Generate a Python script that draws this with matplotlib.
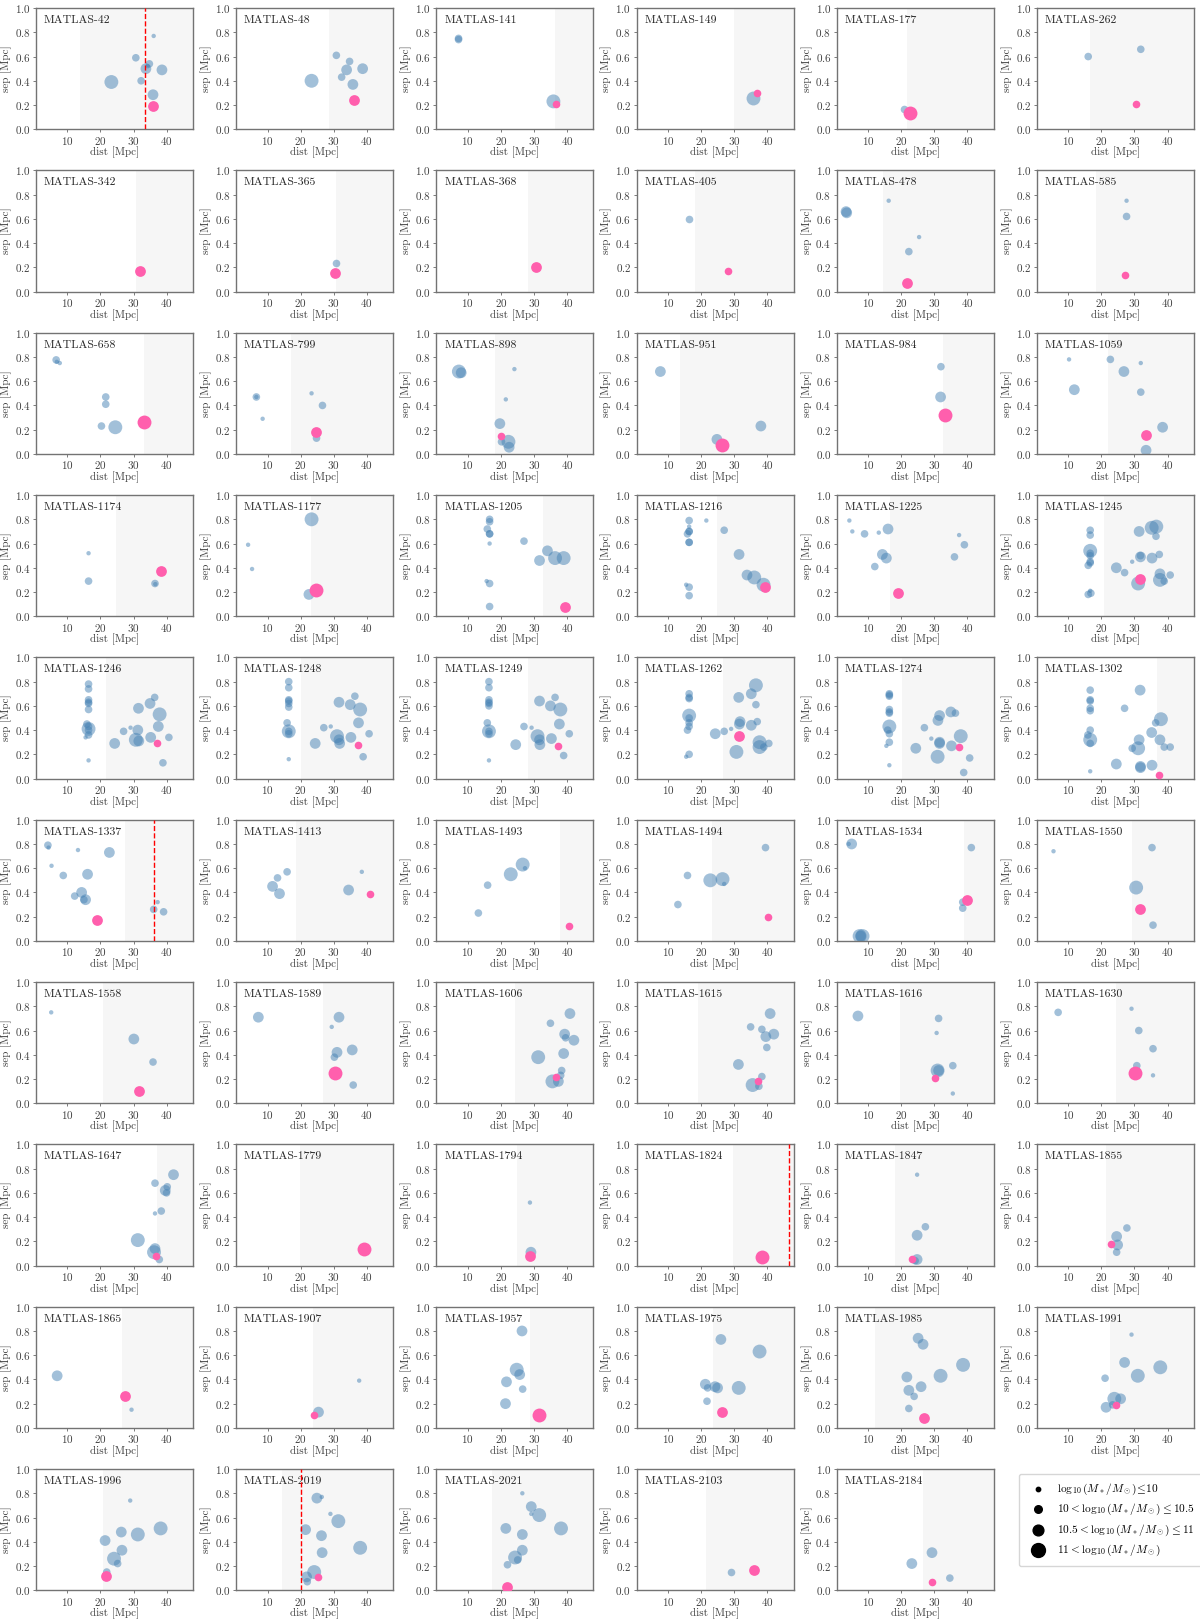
import numpy as np
import matplotlib
matplotlib.use("Agg")
import matplotlib.pyplot as plt

plt.rcParams.update({
    "font.family": "serif",
    "font.serif": ["cmr10"],
    "mathtext.fontset": "cm",
    "axes.formatter.use_mathtext": True,
    "font.size": 8,
})

# panel names, start of shaded distance range
names = ["MATLAS-42", "MATLAS-48", "MATLAS-141", "MATLAS-149", "MATLAS-177", "MATLAS-262",
         "MATLAS-342", "MATLAS-365", "MATLAS-368", "MATLAS-405", "MATLAS-478", "MATLAS-585",
         "MATLAS-658", "MATLAS-799", "MATLAS-898", "MATLAS-951", "MATLAS-984", "MATLAS-1059",
         "MATLAS-1174", "MATLAS-1177", "MATLAS-1205", "MATLAS-1216", "MATLAS-1225", "MATLAS-1245",
         "MATLAS-1246", "MATLAS-1248", "MATLAS-1249", "MATLAS-1262", "MATLAS-1274", "MATLAS-1302",
         "MATLAS-1337", "MATLAS-1413", "MATLAS-1493", "MATLAS-1494", "MATLAS-1534", "MATLAS-1550",
         "MATLAS-1558", "MATLAS-1589", "MATLAS-1606", "MATLAS-1615", "MATLAS-1616", "MATLAS-1630",
         "MATLAS-1647", "MATLAS-1779", "MATLAS-1794", "MATLAS-1824", "MATLAS-1847", "MATLAS-1855",
         "MATLAS-1865", "MATLAS-1907", "MATLAS-1957", "MATLAS-1975", "MATLAS-1985", "MATLAS-1991",
         "MATLAS-1996", "MATLAS-2019", "MATLAS-2021", "MATLAS-2103", "MATLAS-2184"]

shade_from = [13.9, 28.5, 36.5, 29.9, 21.7, 16.6,
              30.7, 30.7, 28.2, 18.3, 14.6, 18.3,
              33.2, 17.2, 18.2, 13.6, 32.7, 21.9,
              24.7, 23.2, 32.8, 24.7, 16.6, 20.9,
              21.8, 20.0, 28.3, 26.7, 20.2, 36.8,
              27.5, 18.6, 38.0, 23.4, 39.1, 29.3,
              20.8, 26.7, 24.2, 19.0, 19.6, 24.5,
              37.2, 19.9, 24.8, 29.8, 18.0, 21.4,
              26.4, 23.6, 28.8, 23.7, 12.2, 22.7,
              20.7, 14.3, 17.4, 21.4, 26.6]

# host galaxy (pink): dist, sep, mass bin
host_x = [36.0, 36.0, 36.8, 36.8, 22.5, 30.6,
          31.9, 30.4, 30.7, 28.2, 21.7, 27.1,
          33.2, 24.5, 20.0, 26.3, 33.3, 33.5,
          38.2, 24.7, 39.4, 39.4, 19.0, 31.8,
          37.0, 37.4, 37.4, 31.6, 37.4, 37.4,
          19.0, 40.9, 40.5, 40.2, 39.9, 31.8,
          31.6, 30.4, 36.8, 37.2, 30.1, 30.1,
          36.8, 39.3, 28.8, 38.3, 23.3, 22.8,
          27.3, 24.1, 31.6, 26.2, 27.0, 24.5,
          21.7, 25.2, 22.0, 35.9, 29.3]
host_y = [0.19, 0.24, 0.21, 0.30, 0.13, 0.21,
          0.17, 0.15, 0.20, 0.17, 0.07, 0.135,
          0.26, 0.18, 0.15, 0.07, 0.32, 0.16,
          0.37, 0.22, 0.08, 0.24, 0.19, 0.31,
          0.29, 0.28, 0.27, 0.35, 0.26, 0.03,
          0.17, 0.39, 0.12, 0.20, 0.34, 0.26,
          0.10, 0.25, 0.22, 0.18, 0.21, 0.25,
          0.08, 0.14, 0.08, 0.07, 0.05, 0.18,
          0.26, 0.11, 0.11, 0.13, 0.08, 0.19,
          0.12, 0.11, 0.03, 0.17, 0.07]
host_m = [2, 2, 1, 1, 3, 1,
          2, 2, 2, 1, 2, 1,
          3, 2, 1, 3, 3, 2,
          2, 3, 2, 2, 2, 2,
          1, 1, 1, 2, 1, 1,
          2, 1, 1, 1, 2, 2,
          2, 3, 1, 1, 1, 3,
          1, 3, 2, 3, 1, 1,
          2, 1, 3, 2, 2, 1,
          2, 1, 2, 2, 1]

# red dashed reference distance
vlines = {"MATLAS-42": 33.5, "MATLAS-1337": 36.1, "MATLAS-1824": 46.7, "MATLAS-2019": 20.2}

# neighbours (blue): (dist, sep, mass bin)
sats = [
    [(36.1, 0.77, 0), (30.7, 0.59, 1), (34.8, 0.54, 1), (33.75, 0.50, 2), (34.3, 0.52, 0), (38.6, 0.49, 2),
     (23.3, 0.39, 3), (32.3, 0.40, 1), (35.9, 0.285, 2)],
    [(30.8, 0.61, 1), (34.8, 0.56, 1), (33.9, 0.49, 2), (38.75, 0.50, 2), (32.4, 0.43, 1), (23.3, 0.40, 3),
     (35.8, 0.37, 2)],
    [(7.2, 0.75, 1), (7.2, 0.74, 1), (35.9, 0.23, 3)],
    [(35.8, 0.26, 3)],
    [(20.8, 0.17, 1)],
    [(16.0, 0.60, 1), (31.9, 0.66, 1)],
    # row 2
    [],
    [(30.7, 0.237, 1)],
    [],
    [(16.5, 0.60, 1)],
    [(3.3, 0.66, 2), (3.5, 0.65, 2), (16.2, 0.75, 0), (25.4, 0.45, 0), (22.3, 0.33, 1)],
    [(27.6, 0.75, 0), (27.6, 0.62, 1)],
    # row 3
    [(6.6, 0.776, 1), (6.8, 0.76, 0), (7.7, 0.75, 0), (21.6, 0.47, 1), (21.6, 0.41, 1), (20.3, 0.23, 1),
     (24.5, 0.22, 3)],
    [(6.6, 0.47, 1), (6.6, 0.47, 0), (8.5, 0.29, 0), (23.3, 0.50, 0), (26.6, 0.40, 1), (24.8, 0.13, 1)],
    [(7.3, 0.68, 3), (8.0, 0.67, 2), (24.1, 0.70, 0), (21.5, 0.45, 0), (19.7, 0.25, 2), (20.2, 0.10, 1),
     (22.3, 0.10, 3), (22.5, 0.055, 2)],
    [(7.7, 0.68, 2), (24.8, 0.12, 2), (38.1, 0.23, 2)],
    [(32.0, 0.72, 1), (31.9, 0.47, 2)],
    [(10.2, 0.78, 0), (11.8, 0.53, 2), (22.7, 0.78, 1), (31.9, 0.75, 0), (26.8, 0.68, 2), (31.9, 0.51, 1),
     (38.5, 0.22, 2), (33.5, 0.03, 2)],
    # row 4
    [(16.4, 0.52, 0), (16.4, 0.29, 1), (36.5, 0.27, 1), (36.6, 0.265, 0)],
    [(4.1, 0.59, 0), (5.3, 0.39, 0), (23.3, 0.80, 3), (22.5, 0.18, 2)],
    [(16.6, 0.80, 1), (16.6, 0.78, 1), (15.9, 0.72, 1), (16.6, 0.68, 1), (16.6, 0.68, 1), (16.6, 0.60, 0),
     (15.7, 0.29, 0), (16.6, 0.27, 1), (16.6, 0.08, 1), (27.0, 0.62, 1), (31.7, 0.46, 2), (34.1, 0.54, 2),
     (36.4, 0.48, 3), (39.0, 0.48, 3)],
    [(16.4, 0.79, 1), (21.6, 0.79, 0), (16.4, 0.74, 0), (16.4, 0.70, 1), (16.4, 0.70, 1), (15.9, 0.68, 1),
     (16.4, 0.61, 1), (16.4, 0.61, 1), (27.0, 0.71, 1), (31.5, 0.51, 2), (33.9, 0.34, 2), (36.1, 0.32, 3),
     (38.9, 0.26, 3), (15.5, 0.26, 0), (16.4, 0.24, 1), (16.4, 0.17, 1)],
    [(4.3, 0.79, 0), (5.2, 0.70, 0), (8.9, 0.68, 1), (13.2, 0.69, 0), (16.0, 0.72, 2), (14.3, 0.51, 2),
     (15.5, 0.48, 2), (12.0, 0.41, 1), (37.5, 0.67, 0), (39.1, 0.59, 1), (36.1, 0.49, 1)],
    [(16.6, 0.71, 1), (16.6, 0.67, 1), (16.6, 0.54, 3), (16.6, 0.52, 1), (16.6, 0.50, 1), (16.6, 0.45, 1),
     (16.6, 0.44, 1), (16.0, 0.42, 1), (16.6, 0.21, 0), (16.0, 0.18, 1), (16.8, 0.19, 1), (24.5, 0.40, 2),
     (27.0, 0.36, 1), (29.3, 0.45, 0), (31.4, 0.70, 2), (31.8, 0.49, 2), (31.8, 0.50, 1), (31.1, 0.27, 3),
     (35.2, 0.73, 3), (36.6, 0.74, 3), (36.5, 0.66, 1), (35.3, 0.48, 2), (37.5, 0.51, 1), (37.7, 0.35, 2),
     (37.7, 0.30, 3), (39.0, 0.29, 1), (40.8, 0.34, 1)],
    # row 5
    [(16.4, 0.78, 1), (16.4, 0.74, 1), (16.4, 0.65, 1), (16.4, 0.63, 1), (16.4, 0.62, 1), (16.4, 0.57, 1),
     (15.9, 0.45, 1), (16.4, 0.41, 3), (16.4, 0.40, 1), (16.4, 0.43, 1), (16.4, 0.36, 1), (15.5, 0.34, 0),
     (16.4, 0.15, 0), (24.3, 0.29, 2), (27.0, 0.39, 1), (29.1, 0.42, 0), (31.3, 0.40, 2), (31.5, 0.58, 2),
     (30.7, 0.32, 3), (31.6, 0.31, 2), (35.0, 0.62, 2), (36.4, 0.67, 1), (35.2, 0.34, 2), (37.9, 0.53, 3),
     (37.5, 0.43, 2), (40.7, 0.34, 1), (38.9, 0.13, 1)],
    [(16.4, 0.80, 1), (16.4, 0.75, 1), (16.4, 0.65, 1), (16.4, 0.64, 1), (16.4, 0.62, 1), (16.4, 0.59, 1),
     (15.9, 0.46, 1), (16.4, 0.39, 3), (16.4, 0.39, 1), (16.4, 0.37, 1), (16.4, 0.16, 0), (24.4, 0.29, 2),
     (27.0, 0.42, 1), (29.1, 0.43, 0), (31.6, 0.63, 2), (35.0, 0.61, 2), (36.4, 0.68, 1), (38.0, 0.57, 3),
     (37.5, 0.46, 2), (31.0, 0.35, 3), (31.6, 0.32, 2), (31.8, 0.29, 2), (35.2, 0.34, 2), (40.7, 0.37, 1),
     (38.9, 0.18, 1)],
    [(16.4, 0.80, 1), (16.4, 0.75, 1), (16.4, 0.65, 1), (16.4, 0.63, 1), (16.4, 0.62, 1), (16.4, 0.60, 1),
     (15.9, 0.46, 1), (16.4, 0.39, 3), (16.4, 0.39, 1), (16.4, 0.37, 1), (16.4, 0.15, 0), (24.5, 0.28, 2),
     (27.0, 0.43, 1), (29.3, 0.42, 0), (31.7, 0.64, 2), (35.0, 0.60, 2), (36.4, 0.67, 1), (38.0, 0.57, 3),
     (37.7, 0.45, 2), (31.1, 0.35, 3), (31.7, 0.32, 2), (31.8, 0.28, 2), (35.3, 0.33, 2), (40.7, 0.37, 1),
     (39.0, 0.19, 1)],
    [(16.4, 0.70, 1), (16.4, 0.67, 1), (16.4, 0.66, 1), (16.4, 0.52, 3), (16.4, 0.50, 1), (16.4, 0.46, 1),
     (16.4, 0.43, 1), (15.9, 0.40, 1), (15.5, 0.18, 0), (16.4, 0.20, 1), (24.3, 0.37, 2), (27.0, 0.39, 1),
     (29.1, 0.41, 0), (31.4, 0.67, 2), (35.2, 0.70, 2), (36.6, 0.77, 3), (36.6, 0.61, 1), (31.8, 0.47, 2),
     (31.6, 0.45, 2), (35.2, 0.44, 2), (37.0, 0.47, 1), (30.7, 0.22, 3), (37.7, 0.30, 3), (37.7, 0.26, 3),
     (39.0, 0.26, 1), (40.5, 0.29, 1)],
    [(16.4, 0.70, 1), (16.4, 0.69, 1), (16.4, 0.68, 1), (16.4, 0.57, 1), (16.4, 0.55, 1), (16.4, 0.54, 1),
     (16.4, 0.43, 3), (15.9, 0.40, 1), (16.4, 0.37, 1), (16.4, 0.30, 1), (15.5, 0.27, 0), (16.4, 0.11, 0),
     (24.4, 0.25, 2), (27.0, 0.42, 1), (29.1, 0.33, 0), (31.6, 0.52, 2), (31.1, 0.48, 2), (35.0, 0.55, 2),
     (36.4, 0.54, 1), (31.6, 0.30, 2), (31.6, 0.29, 2), (31.0, 0.18, 3), (35.2, 0.27, 2), (38.0, 0.35, 3),
     (40.7, 0.17, 1), (38.9, 0.05, 1)],
    [(16.6, 0.73, 1), (16.6, 0.65, 1), (16.6, 0.64, 1), (16.6, 0.58, 1), (16.6, 0.56, 1), (16.6, 0.40, 1),
     (15.9, 0.36, 1), (16.6, 0.32, 3), (16.6, 0.29, 1), (16.6, 0.06, 0), (24.5, 0.12, 2), (27.0, 0.58, 1),
     (29.3, 0.25, 1), (31.7, 0.73, 2), (31.4, 0.32, 2), (31.1, 0.25, 3), (31.8, 0.10, 2), (31.8, 0.09, 2),
     (35.2, 0.38, 2), (36.4, 0.46, 1), (38.0, 0.49, 3), (37.7, 0.32, 2), (39.0, 0.26, 1), (40.8, 0.26, 1),
     (35.3, 0.11, 2)],
    # row 6
    [(4.1, 0.79, 1), (4.3, 0.77, 0), (5.2, 0.62, 0), (8.75, 0.54, 1), (13.2, 0.75, 0), (22.7, 0.73, 2),
     (16.1, 0.55, 2), (14.3, 0.40, 2), (12.2, 0.37, 1), (15.5, 0.34, 2), (15.0, 0.34, 1), (37.3, 0.32, 0),
     (36.1, 0.26, 1), (39.1, 0.24, 1)],
    [(11.5, 0.45, 2), (13.0, 0.52, 1), (15.9, 0.57, 1), (13.6, 0.39, 2), (34.5, 0.42, 2), (38.5, 0.57, 0)],
    [(13.2, 0.23, 1), (16.0, 0.46, 1), (23.0, 0.55, 3), (26.6, 0.63, 3), (27.3, 0.60, 0)],
    [(13.0, 0.30, 1), (15.9, 0.54, 1), (22.8, 0.50, 3), (26.5, 0.51, 3), (27.0, 0.47, 0), (39.5, 0.77, 1)],
    [(5.0, 0.80, 2), (4.1, 0.80, 0), (7.4, 0.04, 3), (8.3, 0.04, 3), (7.7, 0.04, 2), (41.2, 0.77, 1),
     (38.6, 0.32, 1), (38.6, 0.27, 1)],
    [(5.5, 0.74, 0), (35.3, 0.77, 1), (30.5, 0.44, 3), (35.6, 0.13, 1)],
    # row 7
    [(5.1, 0.75, 0), (30.1, 0.53, 2), (35.9, 0.34, 1)],
    [(7.2, 0.71, 2), (29.4, 0.63, 0), (31.6, 0.71, 2), (31.0, 0.42, 2), (30.2, 0.38, 1), (35.6, 0.44, 2),
     (35.9, 0.15, 1)],
    [(40.9, 0.74, 2), (35.0, 0.66, 1), (39.3, 0.57, 2), (39.6, 0.54, 1), (42.1, 0.52, 2), (39.0, 0.41, 2),
     (31.3, 0.38, 3), (38.4, 0.27, 1), (35.6, 0.18, 3), (37.4, 0.18, 2), (38.1, 0.23, 1)],
    [(40.9, 0.74, 2), (35.0, 0.63, 1), (39.6, 0.55, 2), (38.4, 0.61, 1), (42.0, 0.57, 2), (39.9, 0.46, 1),
     (31.3, 0.32, 2), (35.6, 0.15, 3), (37.5, 0.14, 1), (38.4, 0.22, 1)],
    [(6.9, 0.72, 2), (31.3, 0.70, 1), (30.7, 0.58, 0), (31.0, 0.27, 3), (31.3, 0.27, 2), (35.6, 0.31, 1),
     (35.6, 0.08, 0)],
    [(6.9, 0.75, 1), (29.1, 0.78, 0), (31.3, 0.60, 1), (35.6, 0.45, 1), (30.7, 0.31, 1), (35.6, 0.23, 0)],
    # row 8
    [(42.1, 0.75, 2), (39.6, 0.62, 2), (40.0, 0.60, 1), (40.2, 0.65, 1), (36.5, 0.68, 1), (36.5, 0.43, 0),
     (38.4, 0.45, 1), (31.3, 0.21, 3), (36.2, 0.11, 3), (36.5, 0.14, 2), (37.8, 0.05, 1)],
    [],
    [(28.8, 0.52, 0), (29.1, 0.11, 2)],
    [],
    [(24.8, 0.75, 0), (27.3, 0.32, 1), (24.8, 0.25, 2), (24.8, 0.05, 2), (24.2, 0.04, 1)],
    [(27.7, 0.31, 1), (24.6, 0.24, 2), (24.9, 0.17, 2), (24.6, 0.11, 1)],
    # row 9
    [(6.9, 0.43, 2), (29.4, 0.15, 0)],
    [(37.7, 0.39, 0), (25.4, 0.13, 2)],
    [(26.4, 0.80, 2), (24.8, 0.48, 3), (25.7, 0.44, 2), (21.7, 0.38, 2), (26.6, 0.32, 1), (21.4, 0.20, 2)],
    [(26.0, 0.73, 2), (37.7, 0.63, 3), (21.3, 0.36, 2), (24.2, 0.34, 2), (25.0, 0.33, 2), (22.0, 0.33, 1),
     (31.4, 0.33, 3), (21.8, 0.22, 1)],
    [(25.1, 0.74, 2), (26.6, 0.69, 2), (21.7, 0.42, 2), (22.3, 0.31, 2), (26.0, 0.34, 2), (23.9, 0.26, 1),
     (22.3, 0.16, 1), (31.9, 0.43, 3), (38.7, 0.52, 3)],
    [(29.1, 0.77, 0), (27.0, 0.54, 2), (21.1, 0.41, 1), (31.0, 0.43, 3), (37.8, 0.50, 3), (21.4, 0.17, 2),
     (23.9, 0.24, 3), (25.8, 0.24, 2), (23.4, 0.19, 1)],
    # row 10
    [(29.0, 0.74, 0), (21.4, 0.41, 2), (26.3, 0.48, 2), (31.3, 0.46, 3), (38.2, 0.51, 3), (26.5, 0.33, 2),
     (24.1, 0.26, 3), (25.2, 0.22, 1), (21.9, 0.15, 1)],
    [(24.9, 0.76, 2), (26.4, 0.77, 0), (29.0, 0.63, 0), (31.4, 0.57, 3), (21.5, 0.50, 2), (26.3, 0.45, 2),
     (38.0, 0.35, 3), (26.5, 0.31, 2), (24.1, 0.15, 3), (21.8, 0.11, 2), (22.0, 0.07, 1)],
    [(26.5, 0.80, 0), (29.2, 0.69, 2), (29.2, 0.63, 0), (31.6, 0.62, 3), (21.5, 0.51, 2), (38.2, 0.51, 3),
     (26.5, 0.46, 2), (26.5, 0.33, 2), (24.3, 0.27, 3), (25.1, 0.25, 1), (22.0, 0.21, 1)],
    [(29.0, 0.15, 1)],
    [(23.2, 0.22, 2), (29.3, 0.31, 2), (34.7, 0.10, 1)],
]

mass_labels = [r"$\log_{10}(M_*/M_\odot)\!\leq\!10$",
               r"$10 < \log_{10}(M_*/M_\odot) \leq 10.5$",
               r"$10.5 < \log_{10}(M_*/M_\odot) \leq 11$",
               r"$11 < \log_{10}(M_*/M_\odot)$"]
sizes = [10, 30, 60, 100]

fig, axes = plt.subplots(10, 6, figsize=(12, 16.21), dpi=100)
fig.subplots_adjust(left=0.03, right=0.995, top=0.995, bottom=0.019, wspace=0.275, hspace=0.34)

for i, ax in enumerate(axes.flat):
    if i >= len(names):
        ax.axis("off")
        continue
    ax.axvspan(shade_from[i], 60, color="#f6f6f6", lw=0, zorder=0)
    if sats[i]:
        xs, ys, ms = zip(*sats[i])
        ax.scatter(xs, ys, s=[sizes[m] for m in ms], color="steelblue", alpha=0.5, lw=0, zorder=2)
    ax.scatter(host_x[i], host_y[i], s=sizes[host_m[i]], color="#ff5fad", lw=0, zorder=3)
    if names[i] in vlines:
        ax.axvline(vlines[names[i]], color="red", ls="--", lw=1, zorder=4)
    ax.text(0.05, 0.9, names[i], transform=ax.transAxes, va="center", fontsize=8.5, color="0.15")
    ax.set_xlim(0.5, 48)
    ax.set_ylim(0, 1)
    ax.set_xticks([10, 20, 30, 40])
    ax.set_yticks(np.arange(0, 1.01, 0.2))
    ax.set_xlabel("dist [Mpc]", labelpad=0, color="0.25")
    ax.set_ylabel("sep [Mpc]", labelpad=2, color="0.25")
    ax.tick_params(length=2, width=0.6, pad=2, colors="0.4", labelcolor="0.25", labelsize=8)
    for sp in ax.spines.values():
        sp.set_color("0.45")
        sp.set_linewidth(1.0)

# legend in the empty last slot
lax = axes.flat[-1]
handles = [lax.scatter([], [], s=s, color="k") for s in sizes]
lax.legend(handles, mass_labels, loc="center", bbox_to_anchor=(0.47, 0.58), fontsize=8.2,
           frameon=True, handletextpad=0.7, labelspacing=0.45, borderpad=0.7)

fig.savefig("out.png", dpi=100)
